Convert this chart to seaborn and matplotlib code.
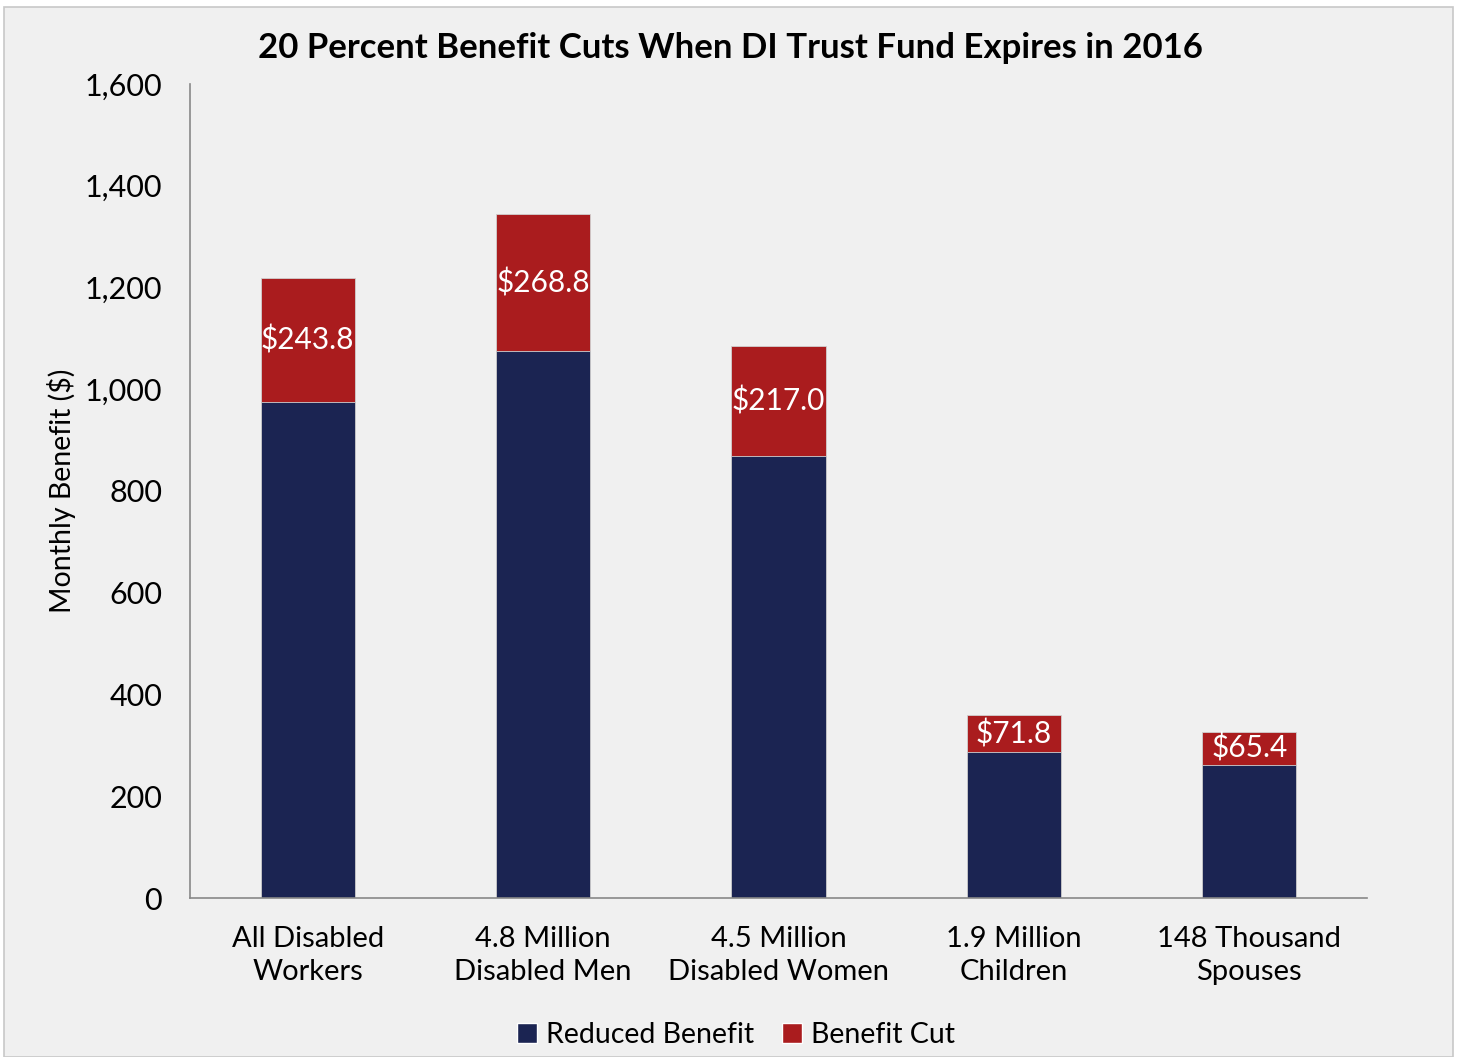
import matplotlib
matplotlib.use("Agg")
import matplotlib.pyplot as plt
import seaborn as sns
import pandas as pd
import numpy as np
from matplotlib.patches import Rectangle, Patch

categories = ["All Disabled\nWorkers", "4.8 Million\nDisabled Men", "4.5 Million\nDisabled Women",
              "1.9 Million\nChildren", "148 Thousand\nSpouses"]
reduced_benefit = [975.2, 1075.2, 868.0, 287.2, 261.6]
benefit_cut = [243.8, 268.8, 217.0, 71.8, 65.4]
cut_labels = ["$243.8", "$268.8", "$217.0", "$71.8", "$65.4"]
y_ticks = [0, 200, 400, 600, 800, 1000, 1200, 1400, 1600]

NAVY = "#1b2452"
RED = "#aa1c1e"
BG = "#f0f0f0"

sns.set_theme(style="white")
plt.rcParams['font.family'] = ['Lato', 'DejaVu Sans']
plt.rcParams['text.color'] = 'black'
plt.rcParams['axes.labelcolor'] = 'black'
plt.rcParams['xtick.color'] = 'black'
plt.rcParams['ytick.color'] = 'black'

df = pd.DataFrame({
    "category": categories,
    "reduced": reduced_benefit,
    "cut": benefit_cut,
})
df["total"] = df["reduced"] + df["cut"]

fig = plt.figure(figsize=(14.57, 10.57), dpi=100, facecolor="white")
fig.patches.append(Rectangle((4 / 1457, 0), 1449 / 1457, 1050 / 1057, transform=fig.transFigure,
                             facecolor=BG, edgecolor="#c8c8c8", linewidth=1.2, zorder=-10))
ax = fig.add_axes([190 / 1457, 159 / 1057, 1177 / 1457, 814 / 1057])
ax.set_facecolor(BG)
ax.patch.set_alpha(0)

sns.barplot(data=df, x="category", y="total", color=RED, width=0.4, ax=ax,
            edgecolor="#d0d0d0", linewidth=0.6, saturation=1)
sns.barplot(data=df, x="category", y="reduced", color=NAVY, width=0.4, ax=ax,
            edgecolor="#d0d0d0", linewidth=0.6, saturation=1)

for i, (r, c, lab) in enumerate(zip(reduced_benefit, benefit_cut, cut_labels)):
    ax.text(i, r + c / 2, lab, ha="center", va="center", color="white", fontsize=21.5)

ax.set_xlim(-0.5, 4.5)
ax.set_ylim(0, 1600)
ax.set_yticks(y_ticks)
ax.set_yticklabels([f"{v:,}" for v in y_ticks], fontsize=22)
ax.set_xticks(range(len(categories)))
ax.set_xticklabels(categories, fontsize=21, linespacing=1.35)
ax.set_xticks(np.arange(-0.5, 5, 1), minor=True)
ax.tick_params(axis="x", which="major", length=0, pad=20)
ax.tick_params(axis="x", which="minor", length=9, width=1.2, color="#888888", direction="out")
ax.tick_params(axis="y", which="major", length=8, width=1.2, color="#888888", direction="out", pad=12)
ax.set_xlabel("")
ax.set_ylabel("Monthly Benefit ($)", fontsize=20.5, labelpad=6)
for s in ["top", "right"]:
    ax.spines[s].set_visible(False)
for s in ["left", "bottom"]:
    ax.spines[s].set_color("#888888")
    ax.spines[s].set_linewidth(1.2)

fig.text(730 / 1457, 1 - 48 / 1057, "20 Percent Benefit Cuts When DI Trust Fund Expires in 2016",
         ha="center", va="center", fontsize=25, fontweight="bold")

handles = [Patch(facecolor=NAVY, label="Reduced Benefit"), Patch(facecolor=RED, label="Benefit Cut")]
fig.legend(handles=handles, loc="center", bbox_to_anchor=(736 / 1457, 1 - 1035 / 1057), ncol=2,
           frameon=False, fontsize=20.5, handlelength=0.7, handleheight=0.7, handletextpad=0.3,
           columnspacing=1.0)

fig.savefig("out.png", dpi=100, facecolor="white")
